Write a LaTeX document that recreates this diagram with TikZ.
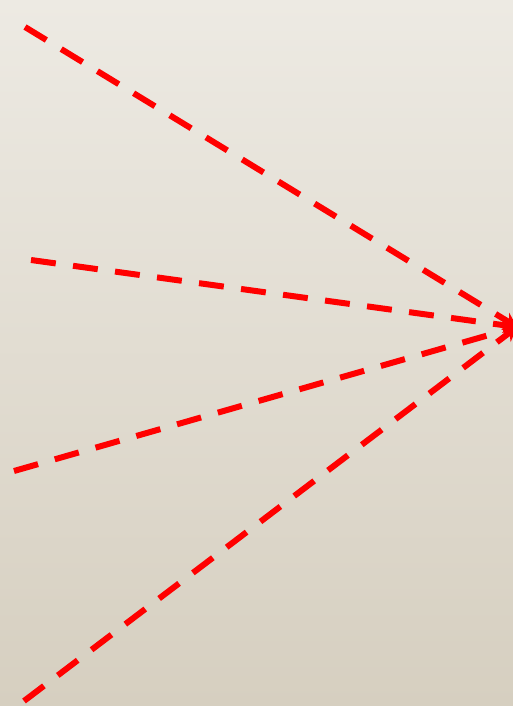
\documentclass[tikz,border=0pt]{standalone}
\usetikzlibrary{arrows.meta}
\definecolor{bgtop}{RGB}{237,234,227}
\definecolor{bgbot}{RGB}{214,207,192}
\definecolor{ray}{RGB}{255,0,0}
\begin{document}
\begin{tikzpicture}[x=1pt,y=-1pt,
  rayline/.style={draw=ray,line width=6pt,dash pattern=on 25pt off 17.4pt,-{Stealth[length=14pt,width=16pt]}}]
\shade[top color=bgtop,bottom color=bgbot] (0,0) rectangle (513,706);
\useasboundingbox (0,0) rectangle (513,706);
\coordinate (t) at (517,327);
\coordinate (a) at (25,27);
\coordinate (b) at (31,260);
\coordinate (c) at (14,471);
\coordinate (d) at (24,701);
\draw[rayline] (a) -- (t);
\draw[rayline] (b) -- (t);
\draw[rayline] (c) -- (t);
\draw[rayline] (d) -- (t);
\end{tikzpicture}
\end{document}
